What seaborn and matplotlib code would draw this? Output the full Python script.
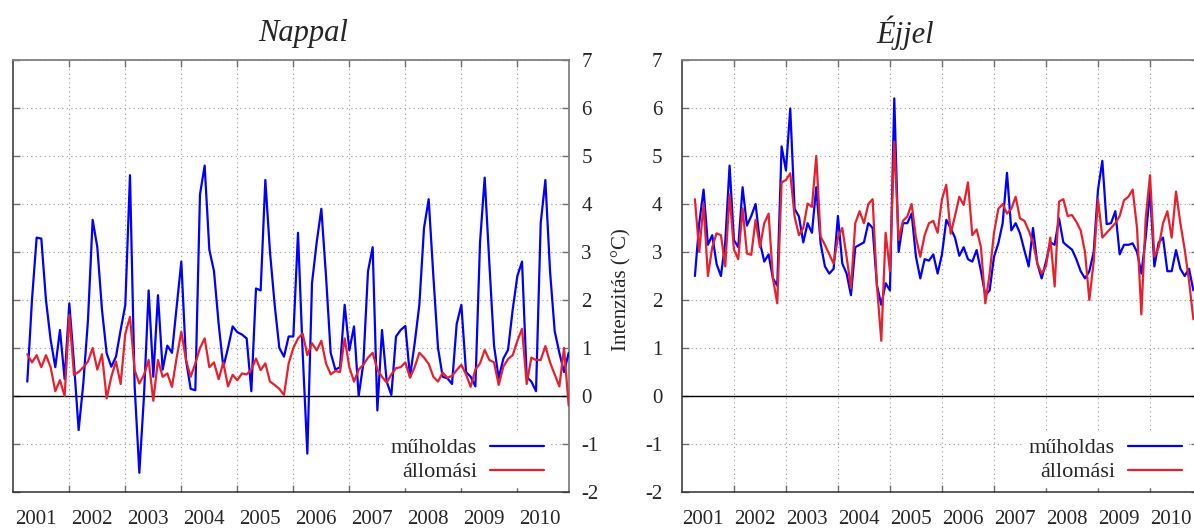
import numpy as np
import pandas as pd
import matplotlib
matplotlib.use("Agg")
import matplotlib.pyplot as plt
import seaborn as sns

# ---- data (monthly means, months counted from Jan 2001 = 0; series start Apr 2001) ----
years = [str(y) for y in range(2001, 2011)]
start_month = 3

# Nappal (day)
nappal_muholdas = [
    0.3, 2.0, 3.3, 3.28, 2.0, 1.17, 0.6, 1.375, 0.35,
    1.93, 0.68, -0.71, 0.26, 1.58, 3.67, 3.1, 1.8, 0.89, 0.61, 0.82, 1.375,
    1.9, 4.6, 0.2, -1.6, 0.0, 2.2, 0.4, 2.1, 0.55, 1.05, 0.9, 1.86,
    2.8, 0.75, 0.15, 0.12, 4.2, 4.8, 3.05, 2.6, 1.5, 0.6, 1.0, 1.45,
    1.33, 1.28, 1.2, 0.1, 2.24, 2.2, 4.5, 3.0, 1.9, 1.0, 0.82, 1.24,
    1.24, 3.4, 0.9, -1.2, 2.35, 3.2, 3.9, 2.5, 0.9, 0.55, 0.6, 1.9,
    0.95, 1.45, 0.0, 0.68, 2.6, 3.1, -0.3, 1.375, 0.3, 0.02, 1.24, 1.375,
    1.46, 0.4, 1.1, 1.9, 3.5, 4.1, 2.5, 1.0, 0.4, 0.37, 0.25, 1.5,
    1.9, 0.5, 0.4, 0.2, 3.2, 4.55, 2.76, 1.05, 0.37, 0.78, 0.96, 1.8,
    2.5, 2.8, 0.4, 0.3, 0.1, 3.6, 4.5, 2.6, 1.35, 0.9, 0.5, 0.9,
]
nappal_allomasi = [
    0.87, 0.7, 0.85, 0.6, 0.85, 0.6, 0.1, 0.33, 0.0,
    1.69, 0.44, 0.5, 0.6, 0.72, 1.0, 0.55, 0.87, -0.05, 0.4, 0.72, 0.25,
    1.3, 1.65, 0.54, 0.26, 0.44, 0.75, -0.1, 0.75, 0.4, 0.47, 0.19, 0.8,
    1.34, 0.75, 0.4, 0.68, 1.0, 1.2, 0.6, 0.7, 0.35, 0.7, 0.2, 0.44,
    0.33, 0.47, 0.45, 0.55, 0.78, 0.54, 0.68, 0.3, 0.23, 0.15, 0.02, 0.68,
    1.0, 1.2, 1.3, 0.85, 1.1, 0.95, 1.15, 0.68, 0.45, 0.52, 0.5, 1.2,
    0.6, 0.3, 0.55, 0.65, 0.8, 0.9, 0.55, 0.4, 0.28, 0.45, 0.58, 0.6,
    0.7, 0.38, 0.6, 0.9, 0.8, 0.67, 0.4, 0.3, 0.49, 0.38, 0.42, 0.54,
    0.65, 0.45, 0.19, 0.55, 0.68, 0.96, 0.75, 0.7, 0.23, 0.61, 0.77, 0.85,
    1.15, 1.4, 0.25, 0.8, 0.75, 0.75, 1.04, 0.7, 0.45, 0.2, 1.0, -0.2,
]

# Éjjel (night)
ejjel_muholdas = [
    2.5, 3.6, 4.3, 3.15, 3.35, 2.75, 2.5, 3.2, 4.8,
    3.25, 3.1, 4.35, 3.55, 3.75, 4.0, 3.2, 2.8, 2.95, 2.45, 2.3, 5.2,
    4.7, 5.99, 3.9, 3.74, 3.2, 3.6, 3.4, 4.35, 3.18, 2.7, 2.55, 2.65,
    3.75, 2.76, 2.55, 2.1, 3.1, 3.15, 3.2, 3.6, 3.5, 2.3, 1.9, 2.35,
    2.2, 6.2, 3.0, 3.6, 3.6, 3.8, 2.9, 2.45, 2.85, 2.82, 2.95, 2.55,
    2.95, 3.67, 3.5, 3.3, 2.92, 3.1, 2.85, 2.8, 3.04, 2.6, 2.1, 2.2,
    2.9, 3.18, 3.6, 4.65, 3.45, 3.6, 3.39, 3.04, 2.7, 3.5, 2.76, 2.45,
    2.8, 3.2, 3.15, 3.7, 3.2, 3.12, 3.05, 2.85, 2.6, 2.45, 2.6, 3.0,
    4.3, 4.9, 3.58, 3.6, 3.85, 2.95, 3.15, 3.15, 3.18, 3.0, 2.55, 3.3,
    4.29, 2.7, 3.2, 3.3, 2.6, 2.6, 3.04, 2.65, 2.5, 2.65, 2.2,
]
ejjel_allomasi = [
    4.1, 3.0, 4.0, 2.5, 3.1, 3.39, 3.35, 2.7, 4.2,
    3.05, 2.85, 3.91, 2.97, 2.94, 3.67, 3.1, 3.6, 3.8, 2.45, 1.93, 4.45,
    4.5, 4.64, 3.74, 3.35, 3.5, 4.01, 3.94, 5.0, 3.32, 3.15, 2.95, 2.76,
    3.3, 3.5, 2.9, 2.25, 3.6, 3.85, 3.6, 4.0, 4.1, 2.3, 1.15, 3.4,
    2.6, 5.3, 3.25, 3.65, 3.74, 4.0, 3.3, 2.9, 3.35, 3.6, 3.65, 3.4,
    4.1, 4.4, 3.38, 3.75, 4.15, 3.98, 4.45, 3.35, 3.47, 3.1, 1.93, 2.55,
    3.4, 3.9, 4.0, 3.8, 3.9, 4.15, 3.7, 3.65, 3.45, 3.2, 2.76, 2.55,
    2.7, 3.3, 2.28, 4.05, 4.1, 3.75, 3.77, 3.63, 3.45, 3.0, 2.0, 2.8,
    4.1, 3.3, 3.4, 3.5, 3.6, 3.75, 4.08, 4.15, 4.3, 3.5, 1.7, 3.7,
    4.6, 2.9, 3.1, 3.6, 3.85, 3.3, 4.26, 3.6, 3.05, 2.4, 1.6,
]

series_names = ["műholdas", "állomási"]
colors = {"műholdas": "#0000ff", "állomási": "#e8202e"}

# ---- style ----
sns.set_style("white")
plt.rcParams['font.family'] = ['Liberation Serif', 'DejaVu Serif']

W, H = 1194, 528
fig = plt.figure(figsize=(W / 100, H / 100), dpi=100)
axL = fig.add_axes([13.3 / W, 1 - 492 / H, 555.4 / W, 432 / H])
axR = fig.add_axes([681.9 / W, 1 - 492 / H, 515.8 / W, 432 / H])


def draw(ax, sat, sta):
    frames = []
    for name, vals in zip(series_names, [sat, sta]):
        frames.append(pd.DataFrame({
            "month": np.arange(start_month, start_month + len(vals)),
            "value": vals,
            "series": name,
        }))
    df = pd.concat(frames, ignore_index=True)
    for name in series_names:
        sub = df[df["series"] == name]
        sns.lineplot(data=sub, x="month", y="value", color=colors[name],
                     linewidth=1.6, ax=ax, label=name, estimator=None,
                     zorder=3)
    ax.axhline(0, color="black", linewidth=1.0, zorder=2)
    ax.set_xlim(0, 119)
    ax.set_ylim(-2, 7)
    ax.set_xlabel("")
    ax.set_ylabel("")
    ax.set_xticks(list(range(12, 109, 12)))
    ax.set_xticklabels([])
    ax.set_xticks([4.75 + 12 * i for i in range(len(years))], minor=True)
    ax.set_xticklabels(years, minor=True)
    ax.set_yticks(list(range(-2, 8)))
    ax.set_yticklabels([str(v) for v in range(-2, 8)])
    ax.tick_params(axis="x", which="major", direction="in", length=5,
                   top=True, bottom=True, color="#707070", width=1)
    ax.tick_params(axis="x", which="minor", length=0, pad=13, labelsize=15)
    ax.tick_params(axis="y", which="major", direction="in", length=5,
                   left=True, right=True, color="#707070", width=1,
                   labelsize=15)
    ax.grid(True, which="major", axis="both", linestyle=(0, (1, 3)),
            color="#999999", linewidth=0.8, zorder=0)
    ax.set_axisbelow(True)
    for side in ["top", "right"]:
        ax.spines[side].set_color("#808080")
        ax.spines[side].set_linewidth(1.3)
    for side in ["left", "bottom"]:
        ax.spines[side].set_color("#303030")
        ax.spines[side].set_linewidth(1.1)


draw(axL, nappal_muholdas, nappal_allomasi)
draw(axR, ejjel_muholdas, ejjel_allomasi)

axL.tick_params(axis="y", labelleft=False, labelright=True, pad=9)
axR.tick_params(axis="y", labelleft=True, labelright=False, pad=14)


def legend(ax, x_anchor):
    h, l = ax.get_legend_handles_labels()
    leg = ax.legend(h[:2], l[:2], loc="lower right",
                    bbox_to_anchor=(x_anchor, 0.012), markerfirst=False,
                    frameon=True, fancybox=False, framealpha=1,
                    edgecolor="white", facecolor="white", fontsize=16,
                    handlelength=2.4, handletextpad=0.6, labelspacing=0.15,
                    borderpad=0.2, borderaxespad=0)
    for line in leg.get_lines():
        line.set_linewidth(1.6)


legend(axL, (548 - 13.3) / 555.4)
legend(axR, (1186 - 681.9) / 515.8)

fig.text(303 / W, 1 - 33 / H, "Nappal", fontsize=22, style="italic",
         ha="center", va="center")
fig.text(905 / W, 1 - 33 / H, "Éjjel", fontsize=22, style="italic",
         ha="center", va="center")
fig.text(622 / W, 1 - 290 / H, "Intenzitás (°C)", fontsize=15,
         rotation=90, ha="center", va="center")

fig.savefig("out.png", dpi=100)
